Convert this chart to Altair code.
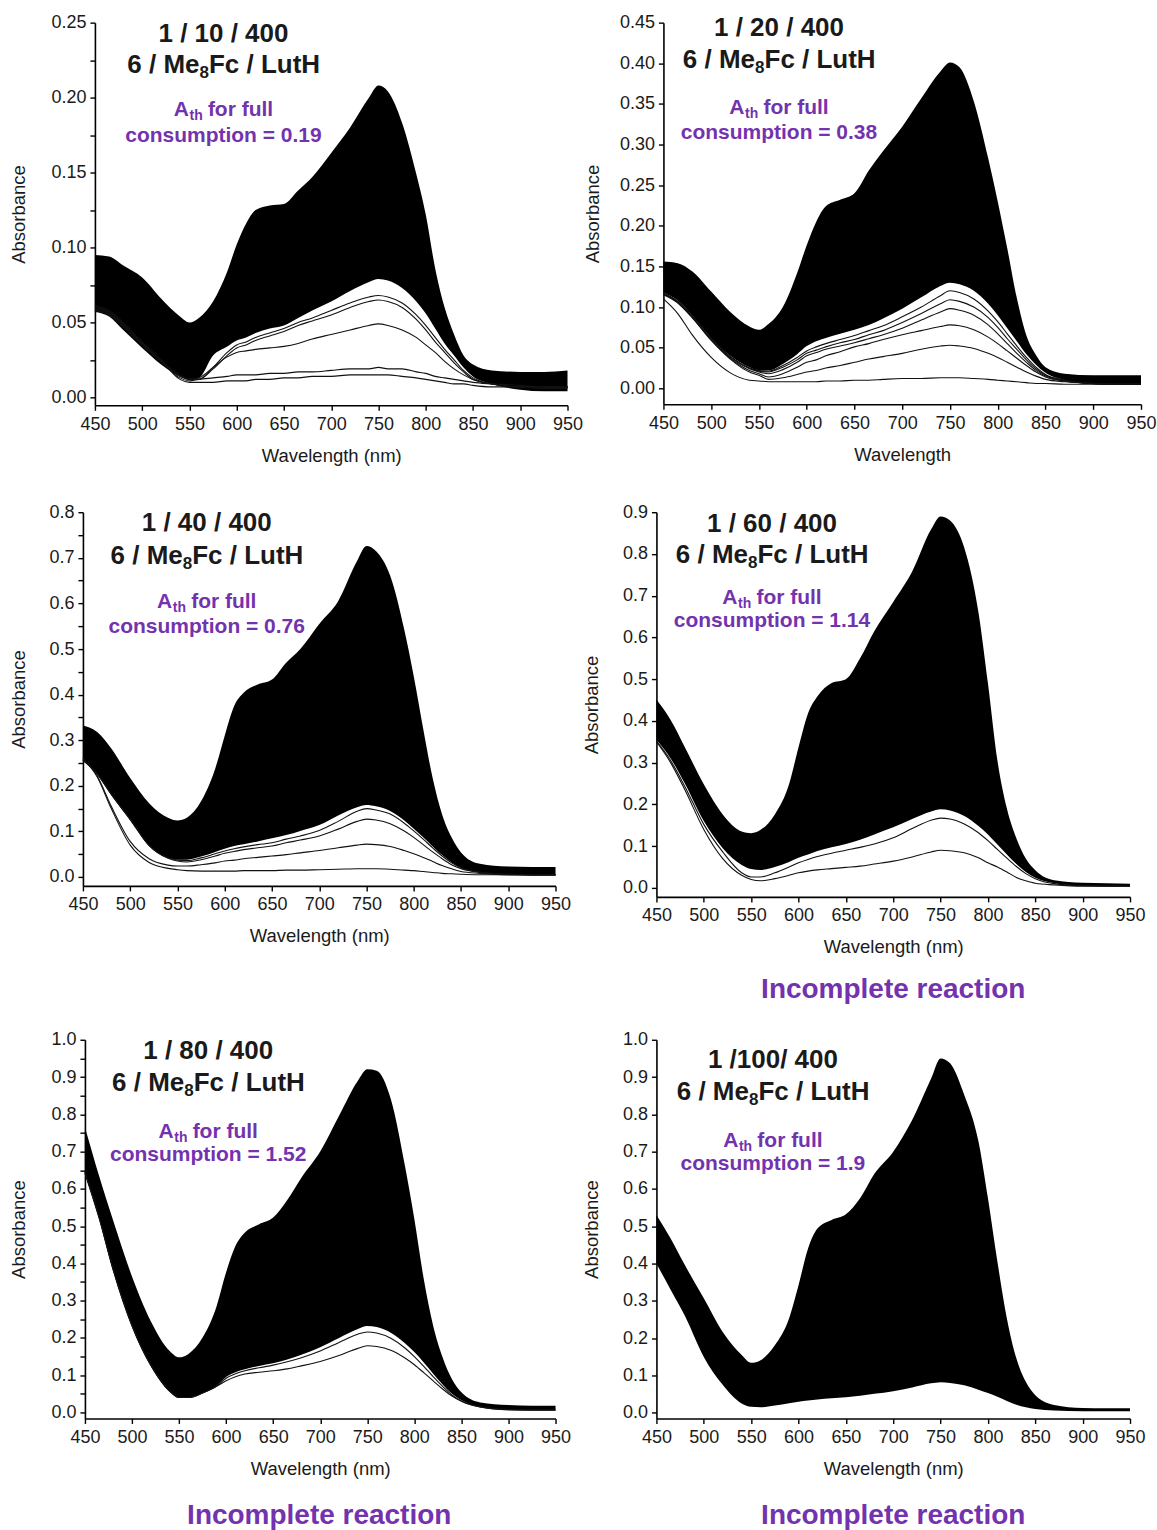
import altair as alt
import pandas as pd

FONT = "Liberation Sans"
INK = "#1a1a1a"
PURPLE = "#7332AE"

# shared wavelength grid (nm)
WL = [450, 465, 480, 500, 520, 540, 550, 560, 575, 590, 600, 610, 620, 635, 650, 665, 680,
      700, 720, 740, 750, 760, 775, 790, 800, 810, 820, 830, 840, 850, 870, 900, 925, 950]

# ---------- panel 1 : 1 / 10 / 400 ----------
P1_TOP = [0.095, 0.094, 0.088, 0.080, 0.066, 0.054, 0.050, 0.053, 0.064, 0.084, 0.102, 0.116, 0.125, 0.128, 0.129, 0.138, 0.147,
          0.163, 0.180, 0.200, 0.208, 0.204, 0.183, 0.149, 0.122, 0.086, 0.060, 0.042, 0.028, 0.022, 0.018, 0.017, 0.017, 0.018]
P1_BOT = [0.057, 0.054, 0.045, 0.033, 0.022, 0.014, 0.012, 0.013, 0.028, 0.034, 0.038, 0.040, 0.043, 0.046, 0.048, 0.053, 0.058,
          0.064, 0.071, 0.077, 0.079, 0.078, 0.073, 0.064, 0.056, 0.046, 0.036, 0.028, 0.020, 0.014, 0.009, 0.005, 0.004, 0.004]
P1_LINE_A = [0.058, 0.055, 0.047, 0.035, 0.024, 0.015, 0.012, 0.012, 0.020, 0.030, 0.035, 0.037, 0.040, 0.043, 0.046, 0.050, 0.053,
             0.058, 0.063, 0.067, 0.068, 0.067, 0.063, 0.055, 0.048, 0.040, 0.032, 0.025, 0.018, 0.013, 0.009, 0.007, 0.007, 0.007]
P1_LINE_B = [0.058, 0.055, 0.047, 0.035, 0.024, 0.015, 0.012, 0.012, 0.019, 0.028, 0.033, 0.035, 0.038, 0.041, 0.044, 0.048, 0.051,
             0.055, 0.060, 0.064, 0.065, 0.064, 0.060, 0.052, 0.045, 0.037, 0.030, 0.023, 0.017, 0.012, 0.009, 0.007, 0.007, 0.007]
P1_LINE_C = [0.059, 0.056, 0.048, 0.036, 0.024, 0.014, 0.012, 0.013, 0.020, 0.027, 0.030, 0.031, 0.032, 0.033, 0.034, 0.036, 0.039,
             0.042, 0.045, 0.048, 0.049, 0.048, 0.045, 0.040, 0.035, 0.030, 0.024, 0.019, 0.015, 0.012, 0.009, 0.007, 0.007, 0.007]
P1_LINE_D = [0.060, 0.057, 0.049, 0.036, 0.024, 0.013, 0.011, 0.012, 0.013, 0.014, 0.015, 0.015, 0.015, 0.016, 0.016, 0.017, 0.017,
             0.018, 0.019, 0.019, 0.020, 0.019, 0.019, 0.017, 0.016, 0.014, 0.013, 0.012, 0.011, 0.010, 0.009, 0.008, 0.007, 0.007]
P1_LINE_E = [0.061, 0.058, 0.050, 0.037, 0.025, 0.012, 0.010, 0.010, 0.010, 0.011, 0.011, 0.011, 0.012, 0.012, 0.013, 0.013, 0.014,
             0.014, 0.015, 0.015, 0.015, 0.015, 0.014, 0.013, 0.012, 0.011, 0.010, 0.009, 0.009, 0.008, 0.007, 0.007, 0.006, 0.006]

# ---------- panel 2 : 1 / 20 / 400 ----------
P2_TOP = [0.156, 0.154, 0.144, 0.119, 0.094, 0.076, 0.072, 0.079, 0.100, 0.142, 0.176, 0.205, 0.224, 0.232, 0.240, 0.268, 0.292,
          0.322, 0.357, 0.390, 0.401, 0.395, 0.353, 0.283, 0.230, 0.172, 0.111, 0.065, 0.041, 0.026, 0.018, 0.016, 0.016, 0.016]
P2_BOT = [0.118, 0.108, 0.090, 0.062, 0.040, 0.026, 0.022, 0.022, 0.030, 0.042, 0.052, 0.058, 0.062, 0.067, 0.072, 0.078, 0.086,
          0.098, 0.112, 0.126, 0.130, 0.128, 0.120, 0.104, 0.090, 0.074, 0.058, 0.042, 0.029, 0.019, 0.010, 0.005, 0.004, 0.004]
P2_LINE_A = [0.117, 0.107, 0.089, 0.061, 0.039, 0.025, 0.022, 0.021, 0.028, 0.038, 0.046, 0.051, 0.055, 0.060, 0.065, 0.071, 0.077,
             0.088, 0.100, 0.114, 0.120, 0.118, 0.110, 0.095, 0.082, 0.067, 0.052, 0.038, 0.026, 0.017, 0.010, 0.006, 0.005, 0.005]
P2_LINE_B = [0.117, 0.107, 0.089, 0.061, 0.039, 0.025, 0.021, 0.020, 0.026, 0.035, 0.043, 0.047, 0.051, 0.056, 0.060, 0.066, 0.071,
             0.081, 0.092, 0.104, 0.109, 0.107, 0.100, 0.087, 0.075, 0.061, 0.048, 0.035, 0.024, 0.016, 0.010, 0.006, 0.005, 0.005]
P2_LINE_C = [0.116, 0.106, 0.088, 0.060, 0.038, 0.024, 0.020, 0.018, 0.023, 0.032, 0.040, 0.044, 0.048, 0.052, 0.056, 0.061, 0.066,
             0.074, 0.084, 0.094, 0.098, 0.096, 0.090, 0.078, 0.067, 0.055, 0.043, 0.032, 0.022, 0.015, 0.009, 0.006, 0.005, 0.005]
P2_LINE_D = [0.116, 0.106, 0.088, 0.060, 0.037, 0.022, 0.018, 0.014, 0.018, 0.026, 0.032, 0.035, 0.040, 0.045, 0.051, 0.055, 0.060,
             0.066, 0.071, 0.076, 0.078, 0.077, 0.072, 0.063, 0.055, 0.046, 0.037, 0.028, 0.020, 0.014, 0.009, 0.006, 0.005, 0.005]
P2_LINE_E = [0.115, 0.105, 0.087, 0.059, 0.036, 0.020, 0.016, 0.011, 0.013, 0.017, 0.020, 0.022, 0.025, 0.028, 0.032, 0.036, 0.039,
             0.043, 0.048, 0.052, 0.053, 0.052, 0.049, 0.043, 0.038, 0.032, 0.026, 0.020, 0.015, 0.011, 0.008, 0.006, 0.005, 0.005]
P2_LINE_F = [0.110, 0.092, 0.066, 0.038, 0.019, 0.010, 0.009, 0.008, 0.008, 0.008, 0.008, 0.008, 0.009, 0.009, 0.010, 0.010, 0.011,
             0.012, 0.012, 0.013, 0.013, 0.013, 0.012, 0.011, 0.010, 0.009, 0.008, 0.007, 0.006, 0.006, 0.005, 0.005, 0.005, 0.005]

# ---------- panel 3 : 1 / 40 / 400 ----------
P3_TOP = [0.332, 0.318, 0.282, 0.217, 0.162, 0.130, 0.124, 0.130, 0.166, 0.238, 0.310, 0.375, 0.404, 0.422, 0.433, 0.470, 0.500,
          0.555, 0.605, 0.693, 0.726, 0.715, 0.661, 0.542, 0.440, 0.325, 0.217, 0.137, 0.087, 0.054, 0.029, 0.023, 0.022, 0.022]
P3_BOT = [0.255, 0.225, 0.180, 0.125, 0.068, 0.042, 0.038, 0.038, 0.045, 0.055, 0.062, 0.068, 0.072, 0.078, 0.085, 0.092, 0.101,
          0.114, 0.135, 0.153, 0.158, 0.155, 0.145, 0.124, 0.106, 0.087, 0.067, 0.048, 0.032, 0.020, 0.010, 0.004, 0.003, 0.003]
P3_LINE_A = [0.256, 0.226, 0.181, 0.126, 0.069, 0.042, 0.037, 0.036, 0.042, 0.051, 0.057, 0.062, 0.066, 0.071, 0.075, 0.083, 0.090,
             0.102, 0.122, 0.144, 0.150, 0.147, 0.138, 0.118, 0.101, 0.083, 0.064, 0.046, 0.031, 0.020, 0.011, 0.006, 0.005, 0.005]
P3_LINE_B = [0.257, 0.227, 0.182, 0.127, 0.070, 0.041, 0.035, 0.033, 0.038, 0.046, 0.052, 0.056, 0.060, 0.064, 0.068, 0.075, 0.081,
             0.090, 0.105, 0.122, 0.127, 0.125, 0.117, 0.101, 0.087, 0.071, 0.055, 0.040, 0.027, 0.018, 0.010, 0.006, 0.005, 0.005]
P3_LINE_C = [0.258, 0.222, 0.155, 0.078, 0.040, 0.026, 0.024, 0.024, 0.027, 0.031, 0.035, 0.037, 0.040, 0.043, 0.046, 0.049, 0.053,
             0.058, 0.064, 0.070, 0.072, 0.071, 0.067, 0.058, 0.051, 0.043, 0.034, 0.025, 0.018, 0.012, 0.008, 0.005, 0.005, 0.005]
P3_LINE_D = [0.260, 0.220, 0.150, 0.070, 0.032, 0.019, 0.016, 0.014, 0.013, 0.013, 0.013, 0.013, 0.014, 0.014, 0.014, 0.015, 0.015,
             0.016, 0.017, 0.018, 0.018, 0.018, 0.017, 0.015, 0.014, 0.012, 0.010, 0.008, 0.007, 0.006, 0.005, 0.005, 0.005, 0.005]

# ---------- panel 4 : 1 / 60 / 400 ----------
P4_TOP = [0.451, 0.402, 0.337, 0.248, 0.176, 0.135, 0.131, 0.139, 0.176, 0.248, 0.337, 0.418, 0.459, 0.491, 0.500, 0.550, 0.615,
          0.685, 0.758, 0.859, 0.890, 0.880, 0.815, 0.660, 0.490, 0.305, 0.190, 0.119, 0.070, 0.042, 0.018, 0.012, 0.011, 0.010]
P4_BOT = [0.355, 0.310, 0.250, 0.160, 0.095, 0.055, 0.045, 0.043, 0.050, 0.062, 0.072, 0.080, 0.088, 0.097, 0.105, 0.115, 0.128,
          0.145, 0.165, 0.183, 0.188, 0.185, 0.172, 0.148, 0.128, 0.104, 0.080, 0.057, 0.038, 0.024, 0.011, 0.005, 0.004, 0.004]
P4_LINE_A = [0.352, 0.305, 0.243, 0.152, 0.086, 0.036, 0.026, 0.026, 0.036, 0.050, 0.060, 0.068, 0.075, 0.083, 0.090, 0.097, 0.105,
             0.120, 0.142, 0.162, 0.167, 0.165, 0.153, 0.132, 0.113, 0.092, 0.071, 0.051, 0.034, 0.022, 0.010, 0.005, 0.004, 0.004]
P4_LINE_B = [0.350, 0.300, 0.235, 0.140, 0.070, 0.030, 0.020, 0.017, 0.022, 0.030, 0.036, 0.040, 0.043, 0.046, 0.049, 0.052, 0.057,
             0.064, 0.074, 0.086, 0.090, 0.089, 0.084, 0.072, 0.060, 0.050, 0.038, 0.025, 0.017, 0.011, 0.007, 0.004, 0.004, 0.004]

# ---------- panel 5 : 1 / 80 / 400 ----------
P5_TOP = [0.765, 0.635, 0.515, 0.365, 0.245, 0.165, 0.148, 0.157, 0.201, 0.286, 0.376, 0.447, 0.483, 0.505, 0.523, 0.570, 0.630,
          0.700, 0.796, 0.890, 0.921, 0.917, 0.841, 0.662, 0.519, 0.358, 0.233, 0.148, 0.089, 0.054, 0.027, 0.020, 0.018, 0.018]
P5_BOT = [0.640, 0.520, 0.380, 0.230, 0.125, 0.056, 0.040, 0.040, 0.052, 0.072, 0.095, 0.108, 0.116, 0.125, 0.132, 0.142, 0.155,
          0.175, 0.200, 0.224, 0.232, 0.229, 0.214, 0.186, 0.162, 0.134, 0.104, 0.075, 0.050, 0.033, 0.015, 0.007, 0.006, 0.006]
P5_LINE_A = [0.642, 0.522, 0.382, 0.232, 0.126, 0.057, 0.040, 0.040, 0.052, 0.071, 0.092, 0.104, 0.112, 0.120, 0.127, 0.136, 0.147,
             0.165, 0.188, 0.210, 0.216, 0.213, 0.199, 0.173, 0.150, 0.124, 0.096, 0.070, 0.047, 0.031, 0.015, 0.007, 0.006, 0.006]
P5_LINE_B = [0.645, 0.525, 0.385, 0.235, 0.128, 0.058, 0.040, 0.040, 0.052, 0.070, 0.085, 0.096, 0.103, 0.108, 0.112, 0.117, 0.125,
             0.137, 0.153, 0.172, 0.179, 0.177, 0.167, 0.146, 0.128, 0.107, 0.085, 0.063, 0.044, 0.030, 0.015, 0.008, 0.007, 0.007]

# ---------- panel 6 : 1 / 100 / 400 ----------
P6_TOP = [0.530, 0.467, 0.396, 0.307, 0.217, 0.155, 0.134, 0.141, 0.181, 0.253, 0.342, 0.440, 0.494, 0.517, 0.532, 0.575, 0.640,
          0.700, 0.785, 0.896, 0.950, 0.937, 0.852, 0.727, 0.575, 0.405, 0.253, 0.146, 0.083, 0.047, 0.021, 0.013, 0.012, 0.012]
P6_BOT = [0.400, 0.330, 0.260, 0.150, 0.075, 0.025, 0.016, 0.015, 0.020, 0.026, 0.030, 0.033, 0.036, 0.039, 0.042, 0.046, 0.051,
          0.058, 0.068, 0.079, 0.082, 0.080, 0.074, 0.062, 0.053, 0.043, 0.032, 0.022, 0.015, 0.010, 0.006, 0.004, 0.004, 0.004]

# ---------- texts ----------
X_TICKS = [450, 500, 550, 600, 650, 700, 750, 800, 850, 900, 950]
RATIO_TEXT = ["1 / 10 / 400", "1 / 20 / 400", "1 / 40 / 400", "1 / 60 / 400", "1 / 80 / 400", "1 /100/ 400"]
ATH_VALUE = ["0.19", "0.38", "0.76", "1.14", "1.52", "1.9"]
SPECIES_PARTS = ["6 / Me", "8", "Fc / LutH"]
ATH_PARTS = ["A", "th", "for full"]
X_TITLES = ["Wavelength (nm)", "Wavelength", "Wavelength (nm)", "Wavelength (nm)", "Wavelength (nm)", "Wavelength (nm)"]
BOTTOM_NOTE = "Incomplete reaction"

TXT_X = [586, 571, 581, 572, 581, 573]
TXT_Y_RATIO = [0.2373, 0.433, 0.758, 0.852, 0.949, 0.925]
TXT_Y_SPECIES = [0.2165, 0.394, 0.6875, 0.778, 0.862, 0.838]
TXT_Y_ATH = [0.188, 0.338, 0.589, 0.680, 0.737, 0.713]
TXT_Y_CONS = [0.1702, 0.307, 0.535, 0.625, 0.674, 0.651]

DATA = [
    (P1_TOP, P1_BOT, [P1_LINE_A, P1_LINE_B, P1_LINE_C, P1_LINE_D, P1_LINE_E]),
    (P2_TOP, P2_BOT, [P2_LINE_A, P2_LINE_B, P2_LINE_C, P2_LINE_D, P2_LINE_E, P2_LINE_F]),
    (P3_TOP, P3_BOT, [P3_LINE_A, P3_LINE_B, P3_LINE_C, P3_LINE_D]),
    (P4_TOP, P4_BOT, [P4_LINE_A, P4_LINE_B]),
    (P5_TOP, P5_BOT, [P5_LINE_A, P5_LINE_B]),
    (P6_TOP, P6_BOT, []),
]

# layout / style per panel (shift = left inset of the plot inside its cell)
STYLE = [
    dict(w=473, h=383, shift=12, dom=[-0.0053, 0.25], step=0.025, lab=0.05, fmt=".2f", ext=46, note=None),
    dict(w=478, h=382, shift=0, dom=[-0.0197, 0.45], step=0.05, lab=0.05, fmt=".2f", ext=41, note=None),
    dict(w=473, h=374, shift=0, dom=[-0.0195, 0.8], step=0.05, lab=0.1, fmt=".1f", ext=34, note=None),
    dict(w=474, h=385, shift=0, dom=[-0.0217, 0.9], step=0.1, lab=0.1, fmt=".1f", ext=35, note=20),
    dict(w=471, h=379, shift=2, dom=[-0.016, 1.0], step=0.05, lab=0.1, fmt=".1f", ext=36, note=24),
    dict(w=474, h=379, shift=0, dom=[-0.015, 1.0], step=0.1, lab=0.1, fmt=".1f", ext=35, note=24),
]


def build(i):
    top, bot, lines = DATA[i]
    st = STYLE[i]
    sh = st["shift"]
    n = int(round(st["dom"][1] / st["step"]))
    yt = [round(k * st["step"], 3) for k in range(n + 1)]
    lab = st["lab"]
    expr = ("abs(datum.value/%s - round(datum.value/%s)) < 0.001 ? format(datum.value, '%s') : ''"
            % (lab, lab, st["fmt"]))
    xs = alt.Scale(domain=[450, 950], range=[sh, sh + st["w"]], nice=False, zero=False)
    ys = alt.Scale(domain=st["dom"], nice=False, zero=False)
    xaxis = alt.Axis(values=X_TICKS, format="d", title=X_TITLES[i], labelFlush=False,
                     labelOverlap=False, labelPadding=5, titlePadding=13)
    yaxis = alt.Axis(values=yt, labelExpr=expr, title="Absorbance", labelFlush=False,
                     labelOverlap=False, labelPadding=4, titlePadding=20, offset=-sh,
                     minExtent=st["ext"], maxExtent=st["ext"])

    def X(f):
        return alt.X(f + ":Q", scale=xs, axis=xaxis)

    def Y(f):
        return alt.Y(f + ":Q", scale=ys, axis=yaxis)

    band_df = pd.DataFrame({"wl": WL, "top": top, "bot": bot})
    layers = [alt.Chart(band_df).mark_area(color="black", interpolate="monotone")
              .encode(x=X("wl"), y=Y("top"), y2="bot:Q")]
    if lines:
        rows = []
        for k, curve in enumerate(lines):
            for w, v in zip(WL, curve):
                rows.append({"wl": w, "v": v, "c": k})
        layers.append(alt.Chart(pd.DataFrame(rows))
                      .mark_line(color="#111111", strokeWidth=1.1, interpolate="monotone")
                      .encode(x=X("wl"), y=Y("v"), detail="c:N"))

    cx = TXT_X[i]
    parts = [
        (TXT_Y_RATIO[i], RATIO_TEXT[i], 26, "center", 0, 0, INK),
        (TXT_Y_SPECIES[i], SPECIES_PARTS[0], 26, "right", -24, 0, INK),
        (TXT_Y_SPECIES[i], SPECIES_PARTS[1], 17, "left", -24, 5, INK),
        (TXT_Y_SPECIES[i], SPECIES_PARTS[2], 26, "left", -14.5, 0, INK),
        (TXT_Y_ATH[i], ATH_PARTS[0], 21, "right", -34.6, 0, PURPLE),
        (TXT_Y_ATH[i], ATH_PARTS[1], 14, "left", -34, 4, PURPLE),
        (TXT_Y_ATH[i], ATH_PARTS[2], 21, "left", -15.6, 0, PURPLE),
        (TXT_Y_CONS[i], "consumption = " + ATH_VALUE[i], 21, "center", 0, 0, PURPLE),
    ]
    for (yy, s, size, al, dx, dy, col) in parts:
        df = pd.DataFrame({"tx": [cx], "ty": [yy], "t": [s]})
        layers.append(alt.Chart(df).mark_text(font=FONT, fontSize=size, fontWeight="bold", color=col,
                                              align=al, baseline="alphabetic", dx=dx, dy=dy)
                      .encode(x=X("tx"), y=Y("ty"), text="t:N"))

    props = dict(width=st["w"] + sh, height=st["h"])
    if st["note"] is not None:
        props["title"] = alt.TitleParams(text=BOTTOM_NOTE, orient="bottom", anchor="middle",
                                         font=FONT, fontSize=28, fontWeight="bold",
                                         color=PURPLE, offset=st["note"])
    return alt.layer(*layers).properties(**props)


panels = [build(i) for i in range(6)]
row1 = alt.hconcat(panels[0], panels[1], spacing=0)
row2 = alt.hconcat(panels[2], panels[3], spacing=11)
row3 = alt.hconcat(panels[4], panels[5], spacing=11)

lower = alt.concat(row2, row3, columns=1, spacing=26)
chart = (
    alt.concat(row1, lower, columns=1, spacing=38)
    .properties(padding={"left": 10, "top": 13, "right": 0, "bottom": 0}, background="white")
    .configure_view(strokeWidth=0)
    .configure_axis(domainColor="black", domainWidth=1.6, tickColor="black", tickWidth=1.4,
                    tickSize=5, labelFont=FONT, labelFontSize=18, labelColor=INK,
                    titleFont=FONT, titleFontSize=18.5, titleFontWeight="normal",
                    titleColor=INK, grid=False)
)

chart.save("out.html", embed_options={"renderer": "svg", "actions": False})
